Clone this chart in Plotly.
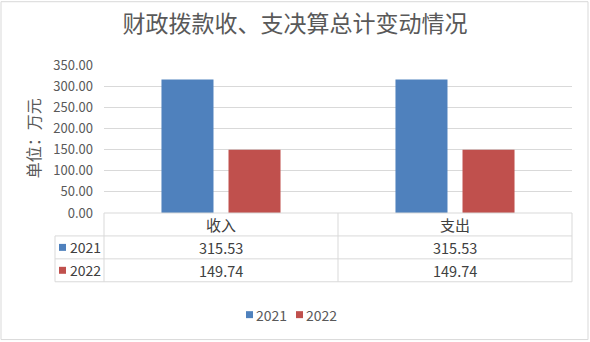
import plotly.graph_objects as go

categories = ["收入", "支出"]
series_names = ["2021", "2022"]
values_2021 = [315.53, 315.53]
values_2022 = [149.74, 149.74]
colors = ["#4F81BD", "#C0504D"]
tick_vals = [0, 50, 100, 150, 200, 250, 300, 350]
tick_text = ["%.2f" % v for v in tick_vals]

FONT = "Noto Sans CJK SC, Microsoft YaHei, sans-serif"
GRID = "#D9D9D9"
TXT = "#595959"

W, H = 590, 342
L, R, T, B = 104, 18, 64.5, 129
ph = H - T - B
pw = W - L - R

series = [values_2021, values_2022]
fig = go.Figure()
for name, vals, c in zip(series_names, series, colors):
    fig.add_trace(go.Bar(x=categories, y=vals, name=name, showlegend=False,
                         marker=dict(color=c, line=dict(width=0))))

def py(px):
    return (H - B - px) / ph

def pxx(px):
    return (px - L) / pw

rows = [213, 236, 259, 282]
shapes = []
# outer border
shapes.append(dict(type="rect", xref="paper", yref="paper",
                   x0=pxx(1), x1=pxx(588), y0=py(340), y1=py(1), line=dict(color=GRID, width=1)))
left_px = 55
for i, yy in enumerate(rows):
    x0 = 0 if i == 0 else pxx(left_px)
    shapes.append(dict(type="line", xref="paper", yref="paper", x0=x0, x1=1,
                       y0=py(yy), y1=py(yy), line=dict(color=GRID, width=1)))
for xv in [0, 0.5, 1]:
    shapes.append(dict(type="line", xref="paper", yref="paper", x0=xv, x1=xv,
                       y0=py(213), y1=py(282), line=dict(color=GRID, width=1)))
shapes.append(dict(type="line", xref="paper", yref="paper", x0=pxx(left_px), x1=pxx(left_px),
                   y0=py(236), y1=py(282), line=dict(color=GRID, width=1)))

ann = []
for c in categories:
    ann.append(dict(x=c, xref="x", y=py(224.5), yref="paper", text=c, showarrow=False,
                    font=dict(family=FONT, size=15, color="#404040"), yanchor="middle"))
for r, (name, vals, col) in enumerate(zip(series_names, series, colors)):
    ycen = py(247.5 + 23 * r)
    for c, v in zip(categories, vals):
        ann.append(dict(x=c, xref="x", y=ycen, yref="paper", text="%.2f" % v, showarrow=False,
                        font=dict(family=FONT, size=14.5, color="#404040"), yanchor="middle"))
    shapes.append(dict(type="rect", xref="paper", yref="paper",
                       x0=pxx(59), x1=pxx(66), y0=ycen - 3.5 / ph, y1=ycen + 3.5 / ph,
                       fillcolor=col, line=dict(width=0)))
    ann.append(dict(x=pxx(68), xref="paper", y=ycen, yref="paper", text=name, showarrow=False,
                    xanchor="left", yanchor="middle", font=dict(family=FONT, size=14, color="#404040")))

# custom compact legend at the bottom
leg_x = [246, 296]
leg_y = py(315)
for name, col, lx in zip(series_names, colors, leg_x):
    shapes.append(dict(type="rect", xref="paper", yref="paper",
                       x0=pxx(lx), x1=pxx(lx + 7), y0=leg_y - 3.5 / ph, y1=leg_y + 3.5 / ph,
                       fillcolor=col, line=dict(width=0)))
    ann.append(dict(x=pxx(lx + 8), xref="paper", y=leg_y, yref="paper", text=name, showarrow=False,
                    xanchor="left", yanchor="middle", font=dict(family=FONT, size=14, color=TXT)))

ann.append(dict(x=pxx(19), xref="paper", y=py(138), yref="paper", text="单位：万元", showarrow=False,
                textangle=-90, font=dict(family=FONT, size=16, color=TXT)))

fig.update_layout(
    width=W, height=H,
    margin=dict(l=L, r=R, t=T, b=B),
    paper_bgcolor="white", plot_bgcolor="white",
    showlegend=False,
    title=dict(text="财政拨款收、支决算总计变动情况", x=0.5, xref="container", xanchor="center",
               y=1 - 24 / H, yref="container", yanchor="middle",
               font=dict(family=FONT, size=23, color=TXT)),
    barmode="group", bargap=0.427, bargroupgap=0.224,
    xaxis=dict(showticklabels=False, ticks="", showgrid=False, showline=False, zeroline=False,
               range=[-0.5, 1.5]),
    yaxis=dict(range=[0, 350], tickvals=tick_vals, ticktext=tick_text, showgrid=True, gridcolor=GRID,
               gridwidth=1, zeroline=False, showline=False, ticks="", ticklabelstandoff=10,
               tickfont=dict(family=FONT, size=13, color=TXT)),
    shapes=shapes, annotations=ann,
    font=dict(family=FONT),
)
fig.write_html("out.html")
